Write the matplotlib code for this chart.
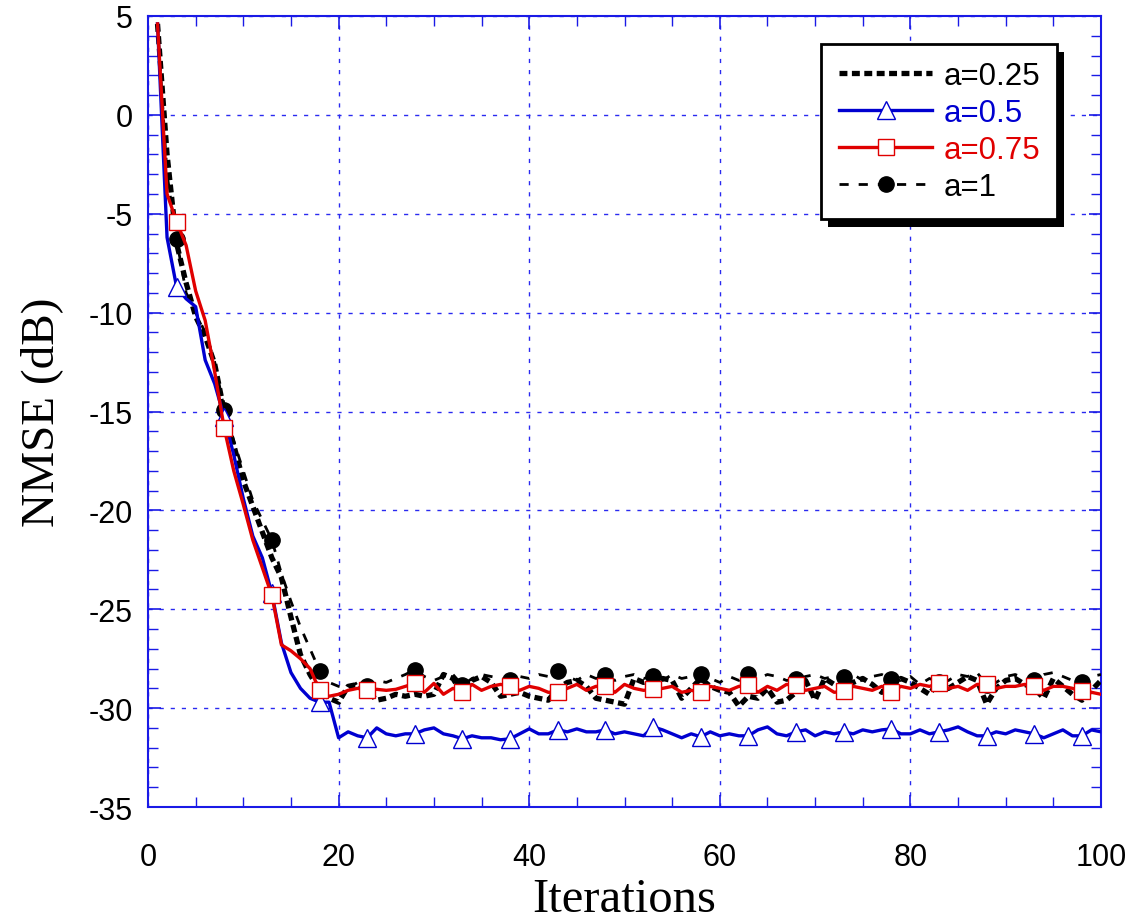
import numpy as np
import matplotlib
matplotlib.use("Agg")
import matplotlib.pyplot as plt
from matplotlib.patches import Rectangle
from matplotlib.transforms import IdentityTransform
from matplotlib.ticker import MultipleLocator

iterations = np.arange(1, 101)

nmse_a025 = [
    4.6, -2.0, -6.5, -8.5, -10.2, -11.2, -12.6, -15.0, -16.7, -18.5,
    -19.8, -21.1, -22.4, -23.4, -25.4, -27.3, -28.3, -29.1, -29.5, -29.7,
    -28.9, -28.8, -29.1, -29.6, -29.5, -29.3, -29.4, -29.3, -29.4, -29.3,
    -28.3, -28.5, -29.3, -28.6, -28.4, -28.7, -29.4, -29.3, -29.2, -29.4,
    -29.5, -29.6, -29.0, -28.7, -28.6, -28.9, -29.5, -29.6, -29.7, -29.8,
    -28.5, -28.7, -28.6, -28.5, -28.6, -29.5, -29.0, -28.5, -28.9, -29.1,
    -29.2, -29.9, -29.4, -29.5, -29.0, -29.7, -29.6, -29.2, -28.6, -29.6,
    -28.5, -28.8, -29.0, -28.7, -28.5, -28.8, -29.2, -28.9, -28.5, -28.7,
    -29.0, -29.3, -28.6, -29.0, -28.7, -28.4, -28.6, -29.8, -29.0, -28.6,
    -28.5, -28.8, -29.0, -29.5, -28.5, -28.9, -29.3, -29.6, -29.1, -28.6,
]

nmse_a05 = [
    4.6, -6.2, -8.7, -9.3, -9.7, -12.4, -13.6, -15.3, -17.2, -19.4,
    -21.3, -22.4, -24.2, -26.7, -28.2, -29.0, -29.5, -29.7, -29.7, -31.5,
    -31.2, -31.4, -31.5, -31.0, -31.3, -31.4, -31.3, -31.3, -31.1, -31.0,
    -31.3, -31.4, -31.55, -31.4, -31.5, -31.5, -31.6, -31.55, -31.3, -31.05,
    -31.3, -31.3, -31.1, -31.2, -31.05, -31.2, -31.2, -31.1, -31.3, -31.2,
    -31.3, -31.4, -30.95, -31.1, -31.3, -31.5, -31.3, -31.45, -31.2, -31.4,
    -31.3, -31.4, -31.4, -31.1, -30.95, -31.3, -31.4, -31.2, -31.1, -31.4,
    -31.2, -31.3, -31.2, -31.3, -31.1, -31.2, -31.1, -31.05, -31.3, -31.3,
    -31.1, -31.3, -31.2, -31.1, -30.95, -31.2, -31.4, -31.4, -31.2, -31.3,
    -31.1, -31.2, -31.3, -31.5, -31.3, -31.1, -31.4, -31.4, -31.1, -31.2,
]

nmse_a075 = [
    4.6, -4.0, -5.4, -6.6, -8.9, -10.4, -13.0, -15.85, -18.0, -19.7,
    -21.5, -22.9, -24.3, -26.8, -27.1, -27.5, -28.0, -29.1, -29.4, -29.3,
    -29.1, -29.0, -29.1, -29.05, -29.1, -29.05, -28.9, -28.75, -29.2, -28.75,
    -29.3, -29.0, -29.2, -28.8, -29.1, -28.9, -28.8, -28.9, -29.1, -28.9,
    -29.0, -29.2, -29.2, -29.0, -28.8, -29.1, -28.9, -28.9, -29.2, -28.8,
    -29.0, -29.1, -29.05, -29.0, -28.9, -29.2, -29.1, -29.2, -28.9, -29.0,
    -29.1, -28.9, -28.85, -29.2, -28.9, -29.1, -28.8, -28.85, -29.1, -29.0,
    -28.9, -29.2, -29.15, -28.9, -29.0, -29.1, -28.9, -29.2, -28.9, -29.0,
    -28.8, -28.9, -28.75, -29.0, -28.9, -29.1, -28.8, -28.8, -29.0, -28.9,
    -28.9, -28.8, -28.9, -29.1, -28.9, -28.9, -29.0, -29.15, -29.2, -29.3,
]

nmse_a1 = [
    4.6, -3.0, -6.3, -9.0, -10.0, -11.0, -12.5, -14.9, -16.5, -18.0,
    -19.5, -20.5, -21.5, -23.2, -24.6, -25.9, -27.0, -28.1, -28.7, -28.9,
    -29.0, -28.7, -28.9, -28.6, -28.7, -28.5, -28.3, -28.05, -28.4, -28.6,
    -28.4, -28.3, -28.85, -28.5, -28.3, -28.4, -28.5, -28.6, -28.4, -28.5,
    -28.3, -28.4, -28.1, -28.4, -28.6, -28.3, -28.5, -28.35, -28.6, -28.4,
    -28.3, -28.5, -28.4, -28.6, -28.3, -28.5, -28.4, -28.25, -28.5, -28.7,
    -28.4, -28.6, -28.25, -28.5, -28.3, -28.4, -28.6, -28.55, -28.4, -28.3,
    -28.5, -28.4, -28.45, -28.3, -28.6, -28.4, -28.3, -28.55, -28.6, -28.4,
    -28.8, -28.5, -28.7, -28.6, -28.3, -28.4, -28.2, -28.85, -28.7, -28.4,
    -28.3, -28.5, -28.6, -28.3, -28.2, -28.4, -28.6, -28.7, -28.4, -28.3,
]

labels = ["a=0.25", "a=0.5", "a=0.75", "a=1"]

AX_BLUE = "#1a1ae6"
LINE_BLUE = "#0000d0"
LINE_RED = "#e00000"

plt.rcParams["font.family"] = ["Liberation Sans", "DejaVu Sans"]
plt.rcParams["axes.unicode_minus"] = False

fig = plt.figure(figsize=(11.37, 9.2), dpi=100)
ax = fig.add_axes([148 / 1137, 1 - 808 / 920, (1101 - 148) / 1137, (808 - 17) / 920])

marks = (2, 5)
ax.plot(iterations, nmse_a025, color="black", lw=3.8,
        linestyle=(0, (1.5, 0.85)), label=labels[0], zorder=3)
ax.plot(iterations, nmse_a05, color=LINE_BLUE, lw=2.4, marker="^",
        markersize=13, markerfacecolor="white", markeredgecolor=LINE_BLUE,
        markeredgewidth=1.0, markevery=marks, label=labels[1], zorder=4)
ax.plot(iterations, nmse_a075, color=LINE_RED, lw=2.4, marker="s",
        markersize=12, markerfacecolor="white", markeredgecolor=LINE_RED,
        markeredgewidth=1.0, markevery=marks, label=labels[2], zorder=4)
ax.plot(iterations, nmse_a1, color="black", lw=2.0,
        linestyle=(0, (3.3, 3.6)), marker="o", markersize=11,
        markevery=marks, label=labels[3], zorder=3)

ax.set_xlim(0, 100)
ax.set_ylim(-35, 5)
ax.xaxis.set_major_locator(MultipleLocator(20))
ax.xaxis.set_minor_locator(MultipleLocator(5))
ax.yaxis.set_major_locator(MultipleLocator(5))
ax.yaxis.set_minor_locator(MultipleLocator(1))

ax.grid(True, which="major", color="#2a2af0", lw=1.0,
        linestyle=(0, (3.0, 5.0)), zorder=1)
for s in ax.spines.values():
    s.set_color(AX_BLUE)
    s.set_linewidth(1.5)

ax.tick_params(which="both", direction="in", top=True, right=True,
               color=AX_BLUE, labelsize=22, labelcolor="black")
ax.tick_params(which="major", length=9, width=1.2)
ax.tick_params(which="minor", length=7, width=1.0)
ax.tick_params(axis="x", which="major", pad=25)
ax.tick_params(axis="y", which="major", pad=11)

ax.set_xlabel("Iterations", fontsize=35, family=["Liberation Serif"])
ax.set_ylabel("NMSE (dB)", fontsize=34, family=["Liberation Serif"])
ax.xaxis.set_label_coords(0.5, -0.088)
ax.yaxis.set_label_coords(-0.089, 0.5)

leg = ax.legend(loc="upper right", bbox_to_anchor=(0.954, 0.9646),
                borderaxespad=0, fontsize=22.5, frameon=True, fancybox=False,
                edgecolor="black", framealpha=1, handlelength=3.0,
                handletextpad=0.35, labelspacing=0.22, borderpad=0.55)
leg.get_frame().set_linewidth(2.0)
leg.set_zorder(10)
for txt, col in zip(leg.get_texts(), ["black", LINE_BLUE, LINE_RED, "black"]):
    txt.set_color(col)

# drop shadow behind the legend box
fig.canvas.draw()
bb = leg.get_window_extent()
shadow = Rectangle((bb.x0 + 7, bb.y0 - 8), bb.width, bb.height,
                   transform=IdentityTransform(), facecolor="black",
                   edgecolor="none", zorder=9, clip_on=False)
ax.add_artist(shadow)

fig.savefig("out.png", dpi=100)
